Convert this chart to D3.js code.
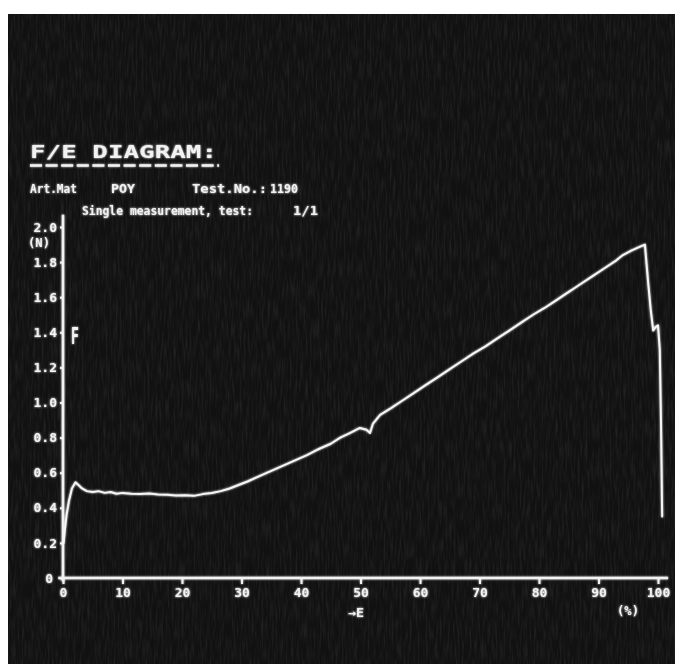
<!DOCTYPE html>
<html>
<head>
<meta charset="utf-8">
<script src="https://cdn.jsdelivr.net/npm/d3@7"></script>
<style>
  html, body { margin: 0; padding: 0; background: #ffffff; }
  svg { display: block; }
  text { font-family: "DejaVu Sans Mono", "Liberation Mono", monospace; font-weight: bold; fill: #f2f2f2; }
</style>
</head>
<body>
<script>
// Force / elongation record of a single tensile test
const elongation = [
  0.1, 0.3, 0.6, 1.0, 1.5, 2.1, 2.6, 3.2, 4.0, 5.0, 6.0, 7.0, 8.0, 9.0, 10.0,
  11.5, 13.0, 14.5, 16.0, 17.5, 19.0, 20.5, 22.0, 23.5, 25.0, 26.5, 28.0, 29.5,
  31.0, 33.0, 35.0, 37.0, 39.0, 41.0, 43.0, 45.0, 46.6, 48.2, 49.9, 51.0, 51.6,
  52.1, 53.3, 55.0, 57.0, 59.0, 61.0, 63.0, 65.0, 67.0, 69.0, 71.0, 73.0, 75.0,
  77.0, 79.0, 81.0, 83.0, 85.0, 87.0, 89.0, 91.0, 93.0, 94.1, 95.5, 96.8, 97.8,
  98.3, 98.8, 99.2, 99.6, 100.0, 100.3, 100.5, 100.7
];
const force = [
  0.20, 0.27, 0.36, 0.44, 0.51, 0.545, 0.53, 0.51, 0.495, 0.49, 0.495, 0.485, 0.49, 0.48, 0.485,
  0.48, 0.478, 0.482, 0.476, 0.475, 0.47, 0.472, 0.468, 0.478, 0.484, 0.495, 0.51, 0.53,
  0.55, 0.58, 0.61, 0.64, 0.67, 0.70, 0.735, 0.765, 0.80, 0.826, 0.855, 0.845, 0.826,
  0.88, 0.93, 0.965, 1.01, 1.055, 1.10, 1.145, 1.19, 1.235, 1.28, 1.32, 1.365, 1.41,
  1.455, 1.50, 1.54, 1.585, 1.63, 1.675, 1.72, 1.765, 1.81, 1.84, 1.865, 1.885, 1.90,
  1.70, 1.52, 1.41, 1.43, 1.44, 1.30, 0.90, 0.35
];

const xTickValues = [0, 10, 20, 30, 40, 50, 60, 70, 80, 90, 100];
const xTickLabels = ["0", "10", "20", "30", "40", "50", "60", "70", "80", "90", "100"];
const yTickValues = [0, 0.2, 0.4, 0.6, 0.8, 1.0, 1.2, 1.4, 1.6, 1.8, 2.0];
const yTickLabels = ["0", "0.2", "0.4", "0.6", "0.8", "1.0", "1.2", "1.4", "1.6", "1.8", "2.0"];

const titleText = "F/E DIAGRAM:";
const headerParts = ["Art.Mat", "POY", "Test.No.:", "1190"];
const subtitleParts = ["Single measurement, test:", "1/1"];
const yUnit = "(N)";
const xUnit = "(%)";
const xName = "\u2192E";
const yName = "F";

const W = 675, H = 664;
const svg = d3.select("body").append("svg").attr("width", W).attr("height", H);

const defs = svg.append("defs");
// soft phosphor glow on the screen contents
const glow = defs.append("filter").attr("id", "glow").attr("x", "-5%").attr("y", "-5%").attr("width", "110%").attr("height", "110%");
glow.append("feGaussianBlur").attr("in", "SourceGraphic").attr("stdDeviation", 0.8).attr("result", "b");
const gm = glow.append("feMerge");
gm.append("feMergeNode").attr("in", "b");
gm.append("feMergeNode").attr("in", "SourceGraphic");

// faint screen grain
const grain = defs.append("filter").attr("id", "grain");
grain.append("feTurbulence").attr("type", "fractalNoise").attr("baseFrequency", "0.5 0.05").attr("numOctaves", 2).attr("seed", 4);
grain.append("feColorMatrix").attr("type", "matrix")
  .attr("values", "0 0 0 0 1  0 0 0 0 1  0 0 0 0 1  0.6 0 0 0 -0.24");

// screen area
svg.append("rect").attr("x", 8).attr("y", 14).attr("width", W - 8).attr("height", H - 14).attr("fill", "#111111");
svg.append("rect").attr("x", 8).attr("y", 14).attr("width", W - 8).attr("height", H - 14)
  .attr("filter", "url(#grain)").attr("opacity", 0.25);

const x = d3.scaleLinear().domain([0, 100]).range([63, 658]);
const y = d3.scaleLinear().domain([0, 2]).range([578, 227]);

const g = svg.append("g").attr("filter", "url(#glow)");

// header block
g.append("text").attr("x", 30).attr("y", 158).attr("font-size", 17)
  .attr("textLength", 187).attr("lengthAdjust", "spacingAndGlyphs").text(titleText);
g.append("line").attr("x1", 30).attr("x2", 219).attr("y1", 165.5).attr("y2", 165.5)
  .attr("stroke", "#f2f2f2").attr("stroke-width", 2.5).attr("stroke-dasharray", "12,3.6");

const headerPos = [[30, 47], [111, 24], [192, 75], [270, 28]];
headerParts.forEach((t, i) => {
  g.append("text").attr("x", headerPos[i][0]).attr("y", 193).attr("font-size", 13)
    .attr("textLength", headerPos[i][1]).attr("lengthAdjust", "spacingAndGlyphs").text(t);
});
const subPos = [[82, 171], [293, 25]];
subtitleParts.forEach((t, i) => {
  g.append("text").attr("x", subPos[i][0]).attr("y", 215).attr("font-size", 12)
    .attr("textLength", subPos[i][1]).attr("lengthAdjust", "spacingAndGlyphs").text(t);
});

// axes
const xAxis = d3.axisBottom(x).tickValues(xTickValues)
  .tickFormat((d, i) => xTickLabels[i]).tickSize(6).tickPadding(4).tickSizeOuter(0);
const yAxis = d3.axisLeft(y).tickValues(yTickValues)
  .tickFormat((d, i) => yTickLabels[i]).tickSize(3).tickPadding(3).tickSizeOuter(0);

const gx = g.append("g").attr("transform", `translate(0,${y(0)})`).call(xAxis);
const gy = g.append("g").attr("transform", `translate(${x(0)},0)`).call(yAxis);
[gx, gy].forEach(a => {
  a.select(".domain").remove();
  a.selectAll(".tick line").attr("stroke", "#f2f2f2").attr("stroke-width", 2);
  a.selectAll(".tick text").attr("fill", "#f2f2f2").attr("font-size", 13)
    .attr("font-family", "DejaVu Sans Mono").attr("font-weight", "bold");
});
gy.select(".tick text").attr("dx", -4);

// axis lines, running a little past the data range
g.append("line").attr("x1", x(-0.8)).attr("x2", x(101.7)).attr("y1", y(0)).attr("y2", y(0))
  .attr("stroke", "#f2f2f2").attr("stroke-width", 2.5);
g.append("line").attr("x1", x(0)).attr("x2", x(0)).attr("y1", y(-0.02)).attr("y2", y(2.07))
  .attr("stroke", "#f2f2f2").attr("stroke-width", 2.5);

// axis names and units
g.append("text").attr("x", 28).attr("y", 247).attr("font-size", 12)
  .attr("textLength", 22).attr("lengthAdjust", "spacingAndGlyphs").text(yUnit);
g.append("text").attr("x", 71).attr("y", 344).attr("font-size", 13)
  .attr("transform", "translate(71,344) scale(1,1.8) translate(-71,-344)").text(yName);
g.append("text").attr("x", 356).attr("y", 617).attr("font-size", 12).attr("text-anchor", "middle")
  .attr("textLength", 16).attr("lengthAdjust", "spacingAndGlyphs").text(xName);
g.append("text").attr("x", 628).attr("y", 615).attr("font-size", 12).attr("text-anchor", "middle")
  .attr("textLength", 22).attr("lengthAdjust", "spacingAndGlyphs").text(xUnit);

// force-elongation trace
const pts = elongation.map((e, i) => [e, force[i]]);
const line = d3.line().x(d => x(d[0])).y(d => y(d[1])).curve(d3.curveLinear);
g.append("path").datum(pts).attr("d", line)
  .attr("fill", "none").attr("stroke", "#f6f6f6").attr("stroke-width", 2)
  .attr("stroke-linejoin", "round").attr("stroke-linecap", "round");
</script>
</body>
</html>
